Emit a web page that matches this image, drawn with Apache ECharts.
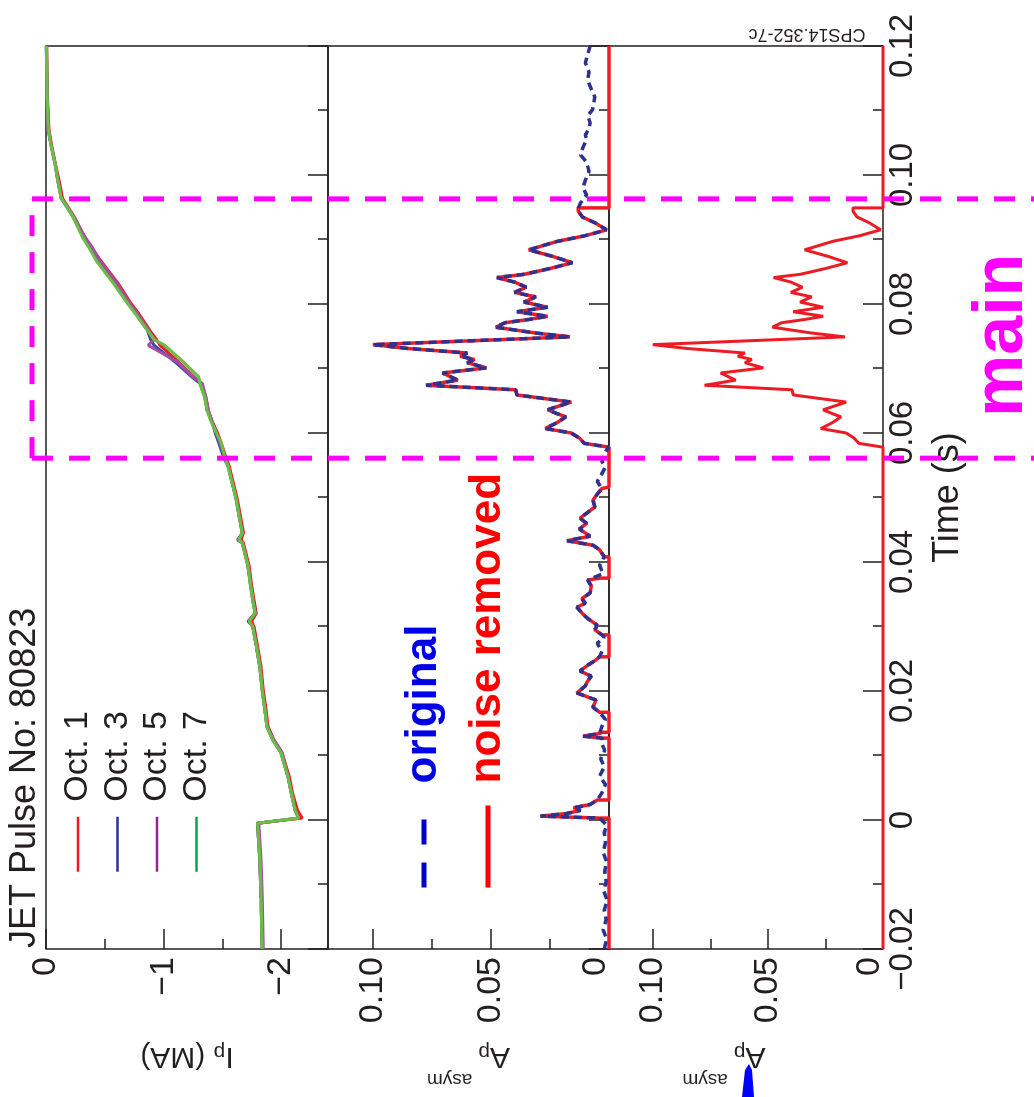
<!DOCTYPE html>
<html>
<head>
<meta charset="utf-8">
<script src="https://cdn.jsdelivr.net/npm/echarts@6/dist/echarts.min.js"></script>
<style>
html,body{margin:0;padding:0;background:#fff;overflow:hidden;width:1034px;height:1097px;}
#wrap{position:absolute;left:0;top:0;width:1097px;height:1034px;transform-origin:0 0;transform:translate(0,1097px) rotate(-90deg);background:#fff;}
</style>
</head>
<body>
<div id="wrap"></div>
<script>
// ---------------- data ----------------
// Panel 1: plasma current Ip (MA) for four octants
const ipTime = [-0.02,-0.012,-0.006,-0.0005,0.0003,0.0015,0.004,0.0067,0.0104,0.0124,
 0.0145,0.0175,0.0202,0.0238,0.027,0.030,0.0308,0.0321,0.0341,0.0365,
 0.0393,0.043,0.0434,0.0445,0.0496,0.0548,0.0563,0.0585,0.060,0.062,
 0.0636,0.0656,0.0677,0.0687,0.0710,0.0736,0.0745,0.0760,0.0785,0.0802,
 0.0833,0.0864,0.0889,0.0904,0.0935,0.0964,0.0992,0.1018,0.1045,0.107,
 0.112,0.116,0.12];
const ipOct1 = [-1.84,-1.83,-1.82,-1.80,-2.18,-2.14,-2.10,-2.07,-2.01,-1.94,
 -1.89,-1.87,-1.85,-1.83,-1.80,-1.77,-1.75,-1.79,-1.77,-1.75,
 -1.73,-1.68,-1.66,-1.68,-1.63,-1.56,-1.53,-1.49,-1.46,-1.41,
 -1.38,-1.36,-1.32,-1.26,-1.13,-0.97,-0.94,-0.88,-0.79,-0.72,
 -0.61,-0.48,-0.38,-0.33,-0.24,-0.14,-0.11,-0.08,-0.05,-0.025,
 -0.012,-0.008,-0.006];
const ipOct3 = [-1.84,-1.83,-1.82,-1.80,-2.15,-2.12,-2.09,-2.06,-2.00,-1.93,
 -1.88,-1.86,-1.84,-1.82,-1.79,-1.76,-1.72,-1.78,-1.76,-1.74,
 -1.72,-1.67,-1.63,-1.67,-1.62,-1.55,-1.51,-1.47,-1.44,-1.41,
 -1.37,-1.35,-1.31,-1.24,-1.10,-0.92,-0.89,-0.86,-0.77,-0.70,
 -0.58,-0.46,-0.37,-0.32,-0.23,-0.13,-0.10,-0.077,-0.045,-0.02,
 -0.01,-0.006,-0.002];
const ipOct5 = [-1.85,-1.84,-1.83,-1.81,-2.15,-2.12,-2.09,-2.06,-2.01,-1.94,
 -1.88,-1.86,-1.84,-1.82,-1.79,-1.76,-1.73,-1.78,-1.76,-1.74,
 -1.72,-1.67,-1.64,-1.67,-1.62,-1.55,-1.52,-1.48,-1.45,-1.41,
 -1.38,-1.36,-1.33,-1.25,-1.12,-0.87,-0.92,-0.87,-0.78,-0.71,
 -0.60,-0.47,-0.39,-0.33,-0.24,-0.13,-0.10,-0.077,-0.045,-0.02,
 -0.01,-0.007,-0.004];
const ipOct7 = [-1.84,-1.83,-1.82,-1.80,-2.15,-2.12,-2.09,-2.06,-2.00,-1.93,
 -1.88,-1.86,-1.84,-1.82,-1.79,-1.76,-1.73,-1.78,-1.76,-1.74,
 -1.72,-1.67,-1.64,-1.67,-1.62,-1.55,-1.52,-1.49,-1.45,-1.40,
 -1.37,-1.35,-1.31,-1.30,-1.17,-1.01,-0.92,-0.86,-0.76,-0.69,
 -0.57,-0.44,-0.36,-0.31,-0.23,-0.13,-0.10,-0.077,-0.045,-0.02,
 -0.01,-0.007,-0.004];

// Main event (shared by original / noise removed / window)
const mainT = [0.0578,0.0584,0.0592,0.0600,0.0607,0.0616,0.0625,0.0630,0.0636,0.0642,
 0.0648,0.0659,0.0667,0.0674,0.0682,0.0693,0.0701,0.0709,0.0714,0.0719,
 0.0724,0.0731,0.0737,0.0749,0.0755,0.0764,0.0771,0.0776,0.0781,0.0788,
 0.0795,0.0803,0.0811,0.0818,0.0826,0.0834,0.0841,0.0846,0.0855,0.0864,
 0.0874,0.0884,0.0897,0.0906,0.0915,0.0926,0.0935,0.0944,0.0949];
const mainV = [0,0.0105,0.0125,0.016,0.027,0.022,0.0183,0.022,0.026,0.021,
 0.016,0.039,0.0395,0.0775,0.064,0.0705,0.052,0.060,0.057,0.063,
 0.060,0.085,0.100,0.0165,0.031,0.048,0.044,0.034,0.026,0.039,
 0.026,0.036,0.031,0.040,0.035,0.040,0.0475,0.036,0.025,0.0155,
 0.024,0.034,0.022,0.010,0.001,0.006,0.0113,0.013,0.013];

// Original A_p asym before / after the main event
const origEarlyT = [-0.02,-0.0185,-0.017,-0.0155,-0.014,-0.0125,-0.011,-0.0095,-0.008,-0.0065,-0.005,-0.0035,-0.002,-0.0008,
 0.0003,0.0006,0.0010,0.0015,0.0019,0.0024,0.0031,
 0.0042,0.0055,0.0068,0.0082,0.0095,0.0108,0.0118,
 0.0127,0.0130,0.0134,
 0.0145,0.0156,
 0.0167,0.0175,0.0186,0.0197,0.0208,0.0214,0.0223,0.0231,0.0240,0.0247,0.0253,
 0.0262,0.0274,0.0283,
 0.0287,0.0295,0.0302,0.0311,0.0319,0.0330,0.0336,0.0343,0.0352,0.0363,0.0372,
 0.0382,0.0395,
 0.0408,0.0419,0.0426,0.0433,0.0440,0.0451,0.0460,0.0468,0.0477,0.0485,0.0496,0.0505,0.0514,
 0.0525,0.0537,0.0546,0.0556,0.0566,0.0574];
const origEarlyV = [0.002,0.001,0.0025,0.0012,0.002,0.0008,0.0022,0.0012,0.0018,0.001,0.0025,0.0015,0.002,0.001,
 0.004,0.029,0.018,0.012,0.015,0.008,0.005,
 0.003,0.0015,0.004,0.002,0.0035,0.0018,0.003,
 0.003,0.011,0.004,
 0.003,0.0015,
 0.004,0.0068,0.0055,0.0136,0.010,0.0093,0.0075,0.0123,0.009,0.006,0.004,
 0.003,0.005,0.002,
 0.003,0.006,0.005,0.0085,0.011,0.0136,0.010,0.0115,0.008,0.0075,0.009,
 0.0025,0.004,
 0.002,0.004,0.0068,0.0178,0.008,0.0125,0.0095,0.0123,0.009,0.006,0.0068,0.005,0.003,
 0.005,0.003,0.0017,0.003,0.002,0.001];
const origLateT = [0.0957,0.0969,0.0980,0.0992,0.1005,0.1019,0.1031,0.1043,0.1055,0.1062,0.1072,
 0.1081,0.1092,0.1101,0.1111,0.1121,0.1133,0.1147,0.1160,0.1174,0.1187,0.12];
const origLateV = [0.012,0.0095,0.011,0.010,0.0085,0.0093,0.012,0.011,0.0095,0.010,0.0085,
 0.008,0.009,0.007,0.0065,0.006,0.0075,0.009,0.0085,0.010,0.009,0.008];

// Noise removed before the main event (with edges back to zero)
const nrEarlyT = [-0.02,0.0003,0.0003,0.0006,0.0010,0.0015,0.0019,0.0024,0.0031,0.0031,
 0.0127,0.0127,0.0130,0.0134,0.0136,0.0136,
 0.0167,0.0167,0.0175,0.0186,0.0197,0.0208,0.0214,0.0223,0.0231,0.0240,0.0247,0.0253,0.0253,
 0.0287,0.0287,0.0295,0.0302,0.0311,0.0319,0.0330,0.0336,0.0343,0.0352,0.0363,0.0372,0.0375,0.0375,
 0.0408,0.0408,0.0419,0.0426,0.0433,0.0440,0.0451,0.0460,0.0468,0.0477,0.0485,0.0496,0.0505,0.0514,0.0516,0.0516];
const nrEarlyV = [0,0,0.004,0.029,0.018,0.012,0.015,0.008,0.005,0,
 0,0.003,0.011,0.004,0.003,0,
 0,0.004,0.0068,0.0055,0.0136,0.010,0.0093,0.0075,0.0123,0.009,0.006,0.004,0,
 0,0.003,0.006,0.005,0.0085,0.011,0.0136,0.010,0.0115,0.008,0.0075,0.009,0.004,0,
 0,0.002,0.004,0.0068,0.0178,0.008,0.0125,0.0095,0.0123,0.009,0.006,0.0068,0.005,0.003,0.003,0];
const nrTailT = [0.0949,0.12];
const nrTailV = [0,0];
const winHeadT = [-0.02];
const winHeadV = [0];

// axis ticks / window
const timeRange = [-0.02, 0.12];
const ipMajor = [-2, -1, 0], ipMinor = [-1.5, -0.5];
const apMajor = [0, 0.05, 0.10], apMinor = [0.025, 0.075];
const mainWindow = [0.0561, 0.0963];

// ---------------- chart ----------------
const INK = '#231f20';
const FONT = '"Liberation Sans", Arial, Helvetica, sans-serif';
function hasFont(name){
  const c = document.createElement('canvas').getContext('2d');
  const s = '0.08 Wmwil (s)';
  c.font = '40px monospace'; const a = c.measureText(s).width;
  c.font = '40px "' + name + '", monospace'; const b = c.measureText(s).width;
  return Math.abs(a - b) > 0.5;
}
const NARROW = hasFont('Liberation Sans Narrow');
const TFONT = NARROW ? '"Liberation Sans Narrow", ' + FONT : FONT;
const TSIZE = NARROW ? 38 : 33;

const zip = (ts, vs) => ts.map((t, i) => [t, vs[i]]);
const origData = zip(origEarlyT, origEarlyV).concat(zip(mainT, mainV), zip(origLateT, origLateV));
const nrData = zip(nrEarlyT, nrEarlyV).concat(zip(mainT, mainV), zip(nrTailT, nrTailV));
const winData = zip(winHeadT, winHeadV).concat(zip(mainT, mainV), zip(nrTailT, nrTailV));

const grids = [{top:46,height:282},{top:328,height:281},{top:609,height:274}];

const nameRich = {
  m: {fontSize: 30, lineHeight: 48, verticalAlign: 'bottom', fontFamily: FONT, color: INK},
  s: {fontSize: 21, lineHeight: 24, verticalAlign: 'bottom', fontFamily: FONT, color: INK},
  a: {fontSize: 19, lineHeight: 40, verticalAlign: 'top', fontFamily: FONT, color: INK, padding: [0,0,0,6]}
};
const tickStyle = {color: INK, width: 1.5};

function majorY(g, min, max, fmt, name, pad){
  return {
    type: 'value', gridIndex: g, position: 'left', min: min, max: max,
    axisLine: {show: false, onZero: false},
    axisTick: {show: true, inside: true, length: 20, customValues: g === 0 ? ipMajor : apMajor, lineStyle: tickStyle},
    axisLabel: {show: true, customValues: g === 0 ? ipMajor : apMajor, formatter: fmt, fontSize: 34, margin: 8, color: INK, fontFamily: FONT,
      rich: {z: {fontSize: 34, fontFamily: FONT, color: INK, padding: [0,0,26,0]}}},
    splitLine: {show: false},
    name: name, nameLocation: 'middle', nameRotate: 90, nameGap: 92,
    nameTextStyle: {rich: nameRich, padding: pad}
  };
}
function minorY(g, min, max){
  return {
    type: 'value', gridIndex: g, position: 'left', min: min, max: max,
    axisLine: {show: false, onZero: false},
    axisTick: {show: true, inside: true, length: 10, customValues: g === 0 ? ipMinor : apMinor, lineStyle: tickStyle},
    axisLabel: {show: false}, splitLine: {show: false}
  };
}
const ipFmt = v => (v === 0 ? '0' : '\u2212' + Math.abs(v));
const apFmt = v => (v === 0 ? '{z|0}' : v.toFixed(2));
const tFmt = v => (Math.abs(v) < 1e-9 ? '0' : (v < 0 ? '\u2212' : '') + Math.abs(v).toFixed(2));

const option = {
  animation: false,
  backgroundColor: '#fff',
  title: [
    {text: 'JET Pulse No: 80823', left: 149, top: 7, padding: 0,
     textStyle: {fontSize: 36, fontWeight: 'normal', lineHeight: 36, color: INK, fontFamily: FONT}},
    {text: 'main', left: 680, top: 968, padding: 0,
     textStyle: {fontSize: 70, fontWeight: 'bold', lineHeight: 70, color: '#ff00ff', fontFamily: FONT}}
  ],
  legend: [
    {data: [
      {name: 'Oct. 1', lineStyle: {color: '#ed1c24'}},
      {name: 'Oct. 3', lineStyle: {color: '#2e3192'}},
      {name: 'Oct. 5', lineStyle: {color: '#92278f'}},
      {name: 'Oct. 7', lineStyle: {color: '#00a651'}}
     ],
     orient: 'vertical', left: 224, top: 61, padding: 0, itemWidth: 55, itemHeight: 2, itemGap: 5.5,
     selectedMode: false, itemStyle: {opacity: 0}, lineStyle: {width: 2.5},
     textStyle: {fontSize: 34, lineHeight: 34, color: INK, fontFamily: FONT, padding: [0,0,0,10]}},
    {data: [
      {name: 'original', textStyle: {color: '#0000e6'}, lineStyle: {color: '#0000cc', width: 5, type: [25, 18]}},
      {name: 'noise removed', textStyle: {color: '#ff0000'}, lineStyle: {color: '#ff0000', width: 5, type: 'solid'}}
     ],
     orient: 'vertical', left: 207, top: 402, padding: 0, itemWidth: 82, itemHeight: 2, itemGap: 20,
     selectedMode: false, itemStyle: {opacity: 0},
     textStyle: {fontSize: 44, fontWeight: 'bold', lineHeight: 44, fontFamily: FONT, padding: [0,0,0,17]}}
  ],
  grid: grids.map(g => ({left: 148, right: 46, top: g.top, height: g.height, show: true,
    borderColor: INK, borderWidth: 1.5, backgroundColor: 'transparent'})),
  xAxis: [0,1,2].map(i => ({
    type: 'value', gridIndex: i, position: 'bottom', min: timeRange[0], max: timeRange[1], interval: 0.02,
    axisLine: {show: false, onZero: false},
    axisTick: {show: true, inside: true, length: 20, lineStyle: tickStyle},
    minorTick: {show: true, splitNumber: 2, length: 10, lineStyle: tickStyle},
    splitLine: {show: false}, minorSplitLine: {show: false},
    axisLabel: i === 2 ? {show: true, formatter: tFmt, fontSize: TSIZE, lineHeight: TSIZE, margin: 3, color: INK, fontFamily: TFONT,
      showMinLabel: true, showMaxLabel: true} : {show: false},
    name: i === 2 ? 'Time (s)' : '', nameLocation: 'middle', nameGap: 47,
    nameTextStyle: {fontSize: 36, lineHeight: 36, color: INK, fontFamily: FONT}
  })),
  yAxis: [
    majorY(0, -2.4, 0, ipFmt, '{m|I}{s|p}{m| (MA)}', [0,0,0,0]),
    minorY(0, -2.4, 0),
    majorY(1, 0, 0.119, apFmt, '{m|A}{s|p}{a|asym}', [0,0,0,0]),
    minorY(1, 0, 0.119),
    majorY(2, 0, 0.119, apFmt, '{m|A}{s|p}{a|asym}', [0,0,0,44]),
    minorY(2, 0, 0.119)
  ],
  series: [
    {type: 'line', name: 'Oct. 1', xAxisIndex: 0, yAxisIndex: 0, data: zip(ipTime, ipOct1), symbol: 'none', clip: false,
     lineStyle: {color: '#ed1c24', width: 3}, itemStyle: {color: '#ed1c24'}, z: 2},
    {type: 'line', name: 'Oct. 3', xAxisIndex: 0, yAxisIndex: 0, data: zip(ipTime, ipOct3), symbol: 'none', clip: false,
     lineStyle: {color: '#3a4aa0', width: 3}, itemStyle: {color: '#3a4aa0'}, z: 3},
    {type: 'line', name: 'Oct. 5', xAxisIndex: 0, yAxisIndex: 0, data: zip(ipTime, ipOct5), symbol: 'none', clip: false,
     lineStyle: {color: '#a54ca5', width: 3}, itemStyle: {color: '#a54ca5'}, z: 4},
    {type: 'line', name: 'Oct. 7', xAxisIndex: 0, yAxisIndex: 0, data: zip(ipTime, ipOct7), symbol: 'none', clip: false,
     lineStyle: {color: '#6cbd45', width: 3.2}, itemStyle: {color: '#6cbd45'}, z: 5},
    {type: 'line', name: 'noise removed', xAxisIndex: 1, yAxisIndex: 2, data: nrData, symbol: 'none', clip: false,
     lineStyle: {color: '#ed1c24', width: 3.5}, itemStyle: {color: '#ed1c24'}, z: 3},
    {type: 'line', name: 'original', xAxisIndex: 1, yAxisIndex: 2, data: origData, symbol: 'none', clip: false,
     lineStyle: {color: '#2e3192', width: 3.5, type: [8, 5]}, itemStyle: {color: '#2e3192'}, z: 4},
    {type: 'line', name: 'noise removed, main window', xAxisIndex: 2, yAxisIndex: 4, data: winData, symbol: 'none', clip: false,
     lineStyle: {color: '#ed1c24', width: 3}, itemStyle: {color: '#ed1c24'}, z: 3}
  ]
};

const chart = echarts.init(document.getElementById('wrap'), null, {renderer: 'canvas', width: 1097, height: 1034});
chart.setOption(option);

const xa = chart.convertToPixel({xAxisIndex: 0}, mainWindow[0]);
const xb = chart.convertToPixel({xAxisIndex: 0}, mainWindow[1]);
const dash = {stroke: '#ff00ff', lineWidth: 5, lineDash: [21, 16]};
chart.setOption({
  graphic: [
    {type: 'text', x: 1063, y: 807, rotation: Math.PI / 2, z: 50,
     style: {text: 'CPS14.352-7c', fontSize: 18, fontFamily: FONT, fill: INK, align: 'center', verticalAlign: 'middle'}},
    {type: 'polygon', z: 50, shape: {points: [[0, 742], [0, 754], [27, 752], [33, 749], [27, 745]]}, style: {fill: '#0000ff'}},
    {type: 'line', z: 100, shape: {x1: xa, y1: 32, x2: xa, y2: 1034}, style: dash},
    {type: 'line', z: 100, shape: {x1: xb, y1: 32, x2: xb, y2: 1034}, style: dash},
    {type: 'line', z: 100, shape: {x1: xa, y1: 32, x2: xb, y2: 32}, style: dash}
  ]
});
</script>
</body>
</html>
